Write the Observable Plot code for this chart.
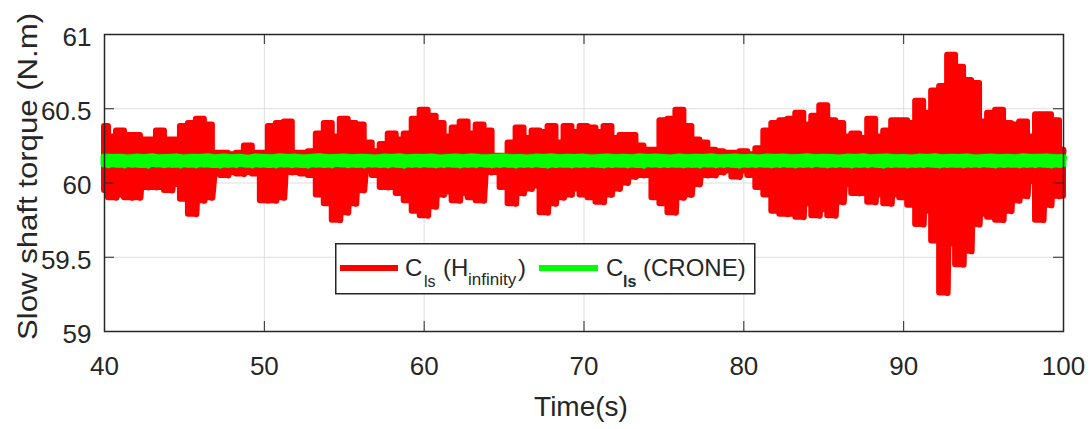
<!DOCTYPE html>
<html>
<head>
<meta charset="utf-8">
<script src="https://cdn.jsdelivr.net/npm/d3@7"></script>
<script src="https://cdn.jsdelivr.net/npm/@observablehq/plot@0.6"></script>
<style>
  html, body { margin: 0; padding: 0; background: #fff; }
  #wrap { position: relative; width: 1091px; height: 429px; }
  #legend { position: absolute; left: 335px; top: 243px; }
  svg text { font-family: "Liberation Sans", Arial, Helvetica, sans-serif; }
</style>
</head>
<body>
<div id="wrap">
  <div id="chart"></div>
  <div id="legend">
    <svg width="421" height="52" xmlns="http://www.w3.org/2000/svg">
      <rect x="0.75" y="0.75" width="419" height="50" fill="#fff" stroke="#262626" stroke-width="1.5"></rect>
      <line x1="5" x2="63" y1="25" y2="25" stroke="#ff0000" stroke-width="6"></line>
      <text x="70" y="33" font-size="24" fill="#262626">C</text>
      <text x="89" y="44" font-size="16" fill="#262626">ls</text>
      <text x="108" y="33" font-size="24" fill="#262626">(H</text>
      <text x="133" y="42" font-size="17" fill="#262626">infinity</text>
      <text x="183" y="33" font-size="24" fill="#262626">)</text>
      <line x1="204" x2="263" y1="25" y2="25" stroke="#00ff00" stroke-width="6"></line>
      <text x="271" y="33" font-size="24" fill="#262626">C</text>
      <text x="288" y="44" font-size="16" font-weight="bold" fill="#262626">ls</text>
      <text x="308" y="33" font-size="24" fill="#262626">(CRONE)</text>
    </svg>
  </div>
</div>
<script>
// ---- data ----
const tStart = 40;
const tStep = 0.5;          // sampling step of the envelope readings (s)
const xTicks = [40, 50, 60, 70, 80, 90, 100];
const xTickLabels = ["40", "50", "60", "70", "80", "90", "100"];
const yTicks = [59, 59.5, 60, 60.5, 61];
const yTickLabels = ["59", "59.5", "60", "60.5", "61"];
const xLabel = "Time(s)";
const yLabel = "Slow shaft torque (N.m)";
const seriesNames = ["C_ls (H_infinity)", "C_ls (CRONE)"];

// H-infinity controller: local maxima at t = 40, 40.5, ... 100
const redHigh = [
  60.38,60.31,60.35,60.32,60.32,60.29,60.29,60.35,60.29,60.29,
  60.38,60.40,60.43,60.39,60.20,60.20,60.19,60.20,60.25,60.20,
  60.20,60.38,60.40,60.41,60.20,60.20,60.21,60.33,60.40,60.31,
  60.43,60.40,60.39,60.27,60.21,60.26,60.33,60.29,60.33,60.43,
  60.49,60.45,60.40,60.31,60.37,60.41,60.33,60.39,60.35,60.18,
  60.18,60.27,60.37,60.30,60.35,60.34,60.38,60.27,60.38,60.34,
  60.38,60.37,60.34,60.38,60.30,60.32,60.32,60.25,60.22,60.22,
  60.42,60.43,60.49,60.38,60.29,60.27,60.22,60.21,60.20,60.20,
  60.21,60.19,60.23,60.35,60.40,60.42,60.43,60.47,60.39,60.45,
  60.52,60.42,60.40,60.31,60.33,60.30,60.43,60.31,60.35,60.42,
  60.42,60.40,60.55,60.47,60.62,60.65,60.86,60.78,60.69,60.67,
  60.41,60.47,60.49,60.40,60.39,60.41,60.31,60.46,60.46,60.42,
  60.22
];
// H-infinity controller: local minima at t = 40.25, 40.75, ... 99.75
const redLow = [
  59.95,59.90,59.92,59.90,59.90,59.97,59.97,59.97,59.95,59.99,
  59.89,59.79,59.88,59.90,60.07,60.05,60.07,60.06,60.07,60.06,
  59.88,59.88,59.90,60.07,60.07,60.06,60.05,59.92,59.86,59.75,
  59.80,59.86,59.95,60.08,60.05,59.97,59.97,59.93,59.88,59.81,
  59.78,59.84,59.92,59.94,59.88,59.93,59.90,59.88,60.07,60.07,
  59.97,59.86,59.93,59.96,59.98,59.80,59.86,59.90,59.92,59.96,
  59.92,59.90,59.87,59.92,59.96,60.00,60.04,60.05,60.05,59.90,
  59.86,59.80,59.90,59.92,59.99,60.05,60.05,60.07,60.08,60.04,
  60.08,60.05,59.97,59.92,59.81,59.79,59.79,59.77,59.86,59.78,
  59.82,59.78,59.87,59.99,59.93,59.93,59.87,59.92,59.86,59.92,
  59.90,59.85,59.72,59.81,59.61,59.26,59.59,59.45,59.54,59.72,
  59.79,59.77,59.75,59.81,59.88,59.91,60.01,59.75,59.85,59.91
];
// CRONE controller: local maxima at t = 40, 40.5, ... 100
const greenHigh = [
  60.172,60.168,60.170,60.165,60.171,60.167,60.174,60.166,60.169,60.172,
  60.165,60.170,60.168,60.173,60.166,60.171,60.167,60.170,60.164,60.172,
  60.169,60.166,60.173,60.168,60.171,60.165,60.170,60.174,60.167,60.169,
  60.172,60.166,60.170,60.168,60.165,60.171,60.169,60.173,60.166,60.170,
  60.168,60.172,60.165,60.169,60.171,60.167,60.174,60.168,60.166,60.170,
  60.172,60.167,60.169,60.165,60.171,60.168,60.173,60.166,60.170,60.168,
  60.171,60.165,60.169,60.172,60.167,60.170,60.166,60.173,60.168,60.171,
  60.169,60.165,60.172,60.167,60.170,60.168,60.174,60.166,60.169,60.171,
  60.167,60.170,60.165,60.172,60.168,60.171,60.166,60.169,60.173,60.167,
  60.170,60.168,60.165,60.171,60.169,60.174,60.166,60.170,60.172,60.167,
  60.169,60.165,60.171,60.168,60.173,60.166,60.170,60.168,60.172,60.165,
  60.169,60.171,60.167,60.170,60.166,60.173,60.168,60.170,60.172,60.167,
  60.169
];
// CRONE controller: local minima at t = 40.25, 40.75, ... 99.75
const greenLow = [
  60.124,60.128,60.122,60.127,60.125,60.121,60.129,60.124,60.126,60.122,
  60.127,60.123,60.128,60.125,60.121,60.126,60.124,60.129,60.123,60.127,
  60.125,60.122,60.128,60.124,60.126,60.121,60.127,60.125,60.123,60.129,
  60.124,60.126,60.122,60.128,60.125,60.123,60.127,60.121,60.126,60.124,
  60.128,60.123,60.125,60.127,60.122,60.126,60.124,60.129,60.123,60.125,
  60.127,60.122,60.126,60.124,60.128,60.121,60.125,60.127,60.123,60.126,
  60.124,60.128,60.122,60.125,60.127,60.123,60.126,60.121,60.128,60.124,
  60.125,60.127,60.123,60.126,60.122,60.128,60.124,60.125,60.127,60.121,
  60.126,60.124,60.128,60.123,60.125,60.127,60.122,60.126,60.124,60.129,
  60.123,60.125,60.127,60.122,60.126,60.124,60.128,60.121,60.125,60.127,
  60.123,60.126,60.124,60.128,60.122,60.125,60.127,60.123,60.126,60.124,
  60.128,60.122,60.125,60.127,60.123,60.126,60.124,60.128,60.122,60.125
];

// ---- build tables ----
// zig-zag trace: maxima and minima interleaved in time order
function interleave(high, low, name) {
  const rows = [];
  high.forEach((v, i) => {
    rows.push({t: tStart + i * tStep, v, series: name});
    if (i < low.length) rows.push({t: tStart + i * tStep + tStep / 2, v: low[i], series: name});
  });
  return rows;
}
// envelope band: the dense oscillation fills the space between minima and maxima
function envelope(high, low, name) {
  return high.map((v, i) => ({t: tStart + i * tStep, hi: v, lo: low[Math.min(i, low.length - 1)], series: name}));
}
const red = interleave(redHigh, redLow, seriesNames[0]);
const green = interleave(greenHigh, greenLow, seriesNames[1]);
const redBand = envelope(redHigh, redLow, seriesNames[0]);
const greenBand = envelope(greenHigh, greenLow, seriesNames[1]);

const ink = "#262626";
const fontFamily = '"Liberation Sans", Arial, Helvetica, sans-serif';
const W = 1091, H = 429, mL = 104, mR = 28, mT = 34, mB = 98;
const innerW = W - mL - mR, innerH = H - mT - mB, tickLen = 10;

const chart = Plot.plot({
  width: W, height: H,
  marginLeft: mL, marginRight: mR, marginTop: mT, marginBottom: mB,
  x: {domain: [40, 100]},
  y: {domain: [59, 61]},
  style: {fontFamily, color: ink, background: "#fff", overflow: "visible"},
  marks: [
    Plot.gridX(xTicks, {stroke: "#dedede", strokeOpacity: 1, strokeWidth: 1}),
    Plot.gridY(yTicks, {stroke: "#dedede", strokeOpacity: 1, strokeWidth: 1}),
    Plot.areaY(redBand, {x: "t", y1: "lo", y2: "hi", curve: "step", fill: "#ff0000", stroke: "#ff0000", strokeWidth: 6, strokeLinejoin: "round"}),
    Plot.line(red, {x: "t", y: "v", stroke: "#ff0000", strokeWidth: 6, strokeLinejoin: "round", strokeLinecap: "round"}),
    Plot.areaY(greenBand, {x: "t", y1: "lo", y2: "hi", fill: "#00ff00", stroke: "#00ff00", strokeWidth: 7, strokeLinejoin: "round"}),
    Plot.line(green, {x: "t", y: "v", stroke: "#00ff00", strokeWidth: 7, strokeLinejoin: "round", strokeLinecap: "round"}),
    Plot.frame({stroke: ink, strokeWidth: 1.5}),
    // inward tick marks on all four sides
    Plot.ruleX(xTicks, {x: d => d, insetTop: innerH - tickLen, stroke: ink}),
    Plot.ruleX(xTicks, {x: d => d, insetBottom: innerH - tickLen, stroke: ink}),
    Plot.ruleY(yTicks, {y: d => d, insetRight: innerW - tickLen, stroke: ink}),
    Plot.ruleY(yTicks, {y: d => d, insetLeft: innerW - tickLen, stroke: ink}),
    Plot.axisX(xTicks, {tickSize: 0, tickPadding: 25, fontSize: 26, fill: ink,
      tickFormat: d => xTickLabels[xTicks.indexOf(d)], label: null}),
    Plot.axisY(yTicks, {tickSize: 0, tickPadding: 13, fontSize: 26, fill: ink, dy: 3,
      tickFormat: d => yTickLabels[yTicks.indexOf(d)], label: null}),
    Plot.text([xLabel], {text: d => d, frameAnchor: "bottom", dy: 84, dx: -3, fontSize: 28, fill: ink})
  ]
});
document.getElementById("chart").appendChild(chart);

// rotated y-axis title, stretched to the length it has in the reference
d3.select(chart).append("text")
  .attr("transform", `translate(37,${mT + innerH / 2 - 6}) rotate(-90)`)
  .attr("text-anchor", "middle")
  .attr("font-size", 27)
  .attr("fill", ink)
  .attr("font-family", fontFamily)
  .attr("textLength", 327)
  .attr("lengthAdjust", "spacingAndGlyphs")
  .text(yLabel);
</script>
</body>
</html>
